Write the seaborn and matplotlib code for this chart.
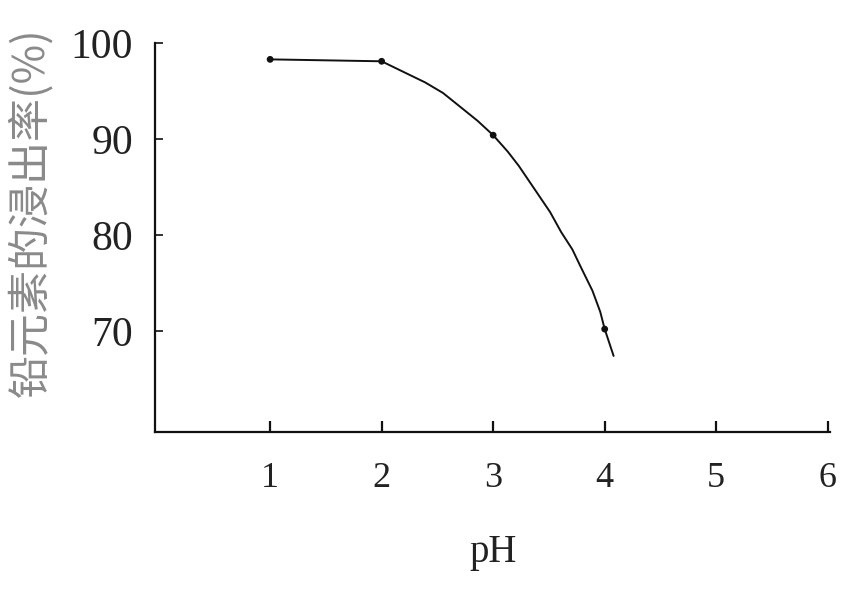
import matplotlib
matplotlib.use("Agg")
import matplotlib.pyplot as plt
import seaborn as sns
import pandas as pd

# Measured leaching rate at each pH
ph_measured = [1, 2, 3, 4]
rate_measured = [98.3, 98.1, 90.4, 70.2]

# Points along the drawn trend curve
ph_curve = [1, 2, 2.23, 2.39, 2.55, 2.70, 2.86, 3.0, 3.13, 3.23, 3.37, 3.51,
            3.61, 3.71, 3.78, 3.89, 3.96, 4.0, 4.08]
rate_curve = [98.3, 98.1, 96.8, 95.9, 94.8, 93.4, 91.9, 90.4, 88.7, 87.2, 84.8,
              82.4, 80.3, 78.5, 76.8, 74.2, 72.0, 70.2, 67.4]

x_ticks = [1, 2, 3, 4, 5, 6]
y_ticks = [70, 80, 90, 100]
x_label = "pH"
y_label = "铅元素的浸出率(%)"

sns.set_style("white")
plt.rcParams["font.family"] = ["Liberation Serif", "DejaVu Serif"]

fig = plt.figure(figsize=(8.53, 5.98), dpi=100)
ax = fig.add_axes([0.182, 0.278, 0.791, 0.650])

curve = pd.DataFrame({"pH": ph_curve, "rate": rate_curve})
pts = pd.DataFrame({"pH": ph_measured, "rate": rate_measured})

sns.lineplot(data=curve, x="pH", y="rate", ax=ax, color="#111111",
             linewidth=1.4, sort=False)
sns.scatterplot(data=pts, x="pH", y="rate", ax=ax, color="#111111",
                s=24, edgecolor="none", zorder=3)

ax.set_xlim(-0.03, 6.02)
ax.set_ylim(59.5, 100)
ax.set_xticks(x_ticks)
ax.set_yticks(y_ticks)
ax.set_xticklabels([str(t) for t in x_ticks], fontsize=26, color="#222222")
ax.set_yticklabels([str(t) for t in y_ticks], fontsize=30, color="#222222")

ax.tick_params(axis="x", bottom=True, direction="in", length=8, width=1.6,
               pad=22, color="#111111")
ax.tick_params(axis="y", left=True, direction="in", length=6, width=1.2,
               pad=16, color="#111111")

for side in ("top", "right"):
    ax.spines[side].set_visible(False)
for side in ("left", "bottom"):
    ax.spines[side].set_color("#111111")
    ax.spines[side].set_linewidth(1.6)

ax.set_xlabel(x_label, fontsize=28, color="#222222", labelpad=28)
ax.set_ylabel("")
fig.text(0.036, 0.645, y_label, rotation=90, ha="center", va="center",
         fontsize=31, color="#8a8a8a",
         family=["Noto Sans CJK SC", "DejaVu Sans"])

fig.savefig("out.png", dpi=100)
